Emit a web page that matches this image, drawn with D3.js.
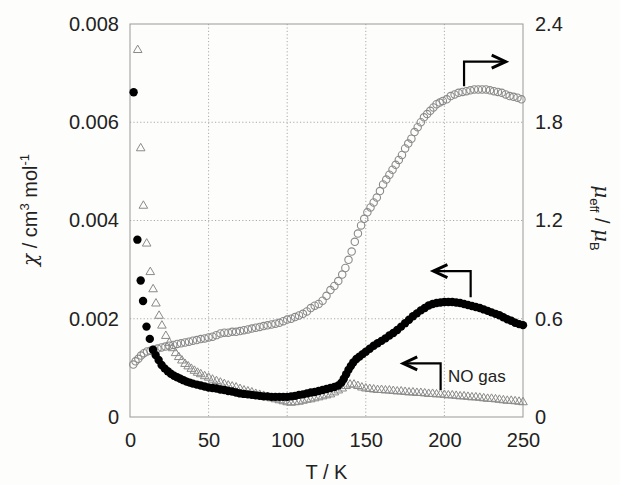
<!DOCTYPE html>
<html>
<head>
<meta charset="utf-8">
<script src="https://cdn.jsdelivr.net/npm/d3@7"></script>
<style>
  body { margin: 0; background: #fdfdfb; }
  svg { display: block; font-family: "Liberation Sans", Arial, sans-serif; }
</style>
</head>
<body>
<svg id="chart" width="620" height="485"></svg>
<script>
// chi of the sample under NO (filled circles), [T / K, chi / cm3 mol-1]
var noChi = [
  [2.3, 0.00661], [4.7, 0.00361], [6.8, 0.00278], [8.3, 0.00236], [10.5, 0.00184],
  [12.6, 0.00159], [14.6, 0.00137], [16.3, 0.00126], [18.2, 0.00116], [20.1, 0.00106],
  [22, 0.00099], [24, 0.00093], [26, 0.00088], [28, 0.00084], [30, 0.00081],
  [32, 0.00078], [34, 0.00075], [36, 0.00072], [38, 0.0007], [40, 0.00068],
  [42.5, 0.00066], [45, 0.00064], [47.5, 0.00062], [50, 0.0006], [52.5, 0.00059],
  [55, 0.00058], [57.5, 0.00056], [60, 0.00055], [62.5, 0.00053], [65, 0.00052],
  [67.5, 0.0005], [70, 0.00048], [72.5, 0.00047], [75, 0.00046], [77.5, 0.00045],
  [80, 0.00044], [82.5, 0.00043], [85, 0.00042], [87.5, 0.00042], [90, 0.00041],
  [92.5, 0.00041], [95, 0.00041], [97.5, 0.00041], [100, 0.00041], [102.5, 0.00042],
  [105, 0.00043], [107.5, 0.00045], [110, 0.00046], [112.5, 0.00048], [115, 0.0005],
  [117.5, 0.00051], [120, 0.00053], [122.5, 0.00055], [125, 0.00057], [127.5, 0.00059],
  [130, 0.00061], [132.5, 0.00064], [134.5, 0.0007], [136, 0.00078], [137.5, 0.00087],
  [139, 0.00096], [140.5, 0.00104], [142, 0.00111], [144, 0.00118], [146, 0.00123],
  [148, 0.00128], [150, 0.00133], [152.5, 0.00139], [155, 0.00145], [157.5, 0.0015],
  [160, 0.00155], [162.5, 0.0016], [165, 0.00166], [167.5, 0.00171], [170, 0.00177],
  [172.5, 0.00184], [175, 0.00191], [177.5, 0.00198], [180, 0.00205], [182.5, 0.00211],
  [185, 0.00217], [187.5, 0.00222], [190, 0.00227], [192.5, 0.0023], [195, 0.00232],
  [197.5, 0.00233], [200, 0.00234], [202.5, 0.00234], [205, 0.00234], [207.5, 0.00233],
  [210, 0.00232], [212.5, 0.0023], [215, 0.00228], [217.5, 0.00226], [220, 0.00224],
  [222.5, 0.00222], [225, 0.00219], [227.5, 0.00216], [230, 0.00213], [232.5, 0.0021],
  [235, 0.00207], [237.5, 0.00203], [240, 0.00199], [242.5, 0.00196], [245, 0.00192],
  [247.5, 0.00189], [250, 0.00187]
];

// mu_eff of the sample (open circles, right axis), [T / K, mu_eff / mu_B]
var muEff = [
  [2.1, 0.32], [3.5, 0.34], [5.3, 0.355], [7, 0.375], [8.8, 0.39], [10.8, 0.4],
  [13, 0.405], [15, 0.41], [17.5, 0.418], [20, 0.425], [22.5, 0.43], [25, 0.435],
  [27.5, 0.44], [30, 0.446], [32.5, 0.45], [35, 0.455], [37.5, 0.46], [40, 0.466],
  [42.5, 0.47], [45, 0.476], [47.5, 0.48], [50, 0.486], [52.5, 0.49], [55, 0.5],
  [57.5, 0.51], [60, 0.515], [62.5, 0.515], [65, 0.52], [67.5, 0.52], [70, 0.525],
  [72.5, 0.53], [75, 0.535], [77.5, 0.54], [80, 0.545], [82.5, 0.55], [85, 0.555],
  [87.5, 0.56], [90, 0.565], [92.5, 0.57], [95, 0.575], [97.5, 0.585], [100, 0.595],
  [102.5, 0.6], [105, 0.61], [107.5, 0.62], [110, 0.63], [112.5, 0.645], [115, 0.665],
  [117.5, 0.68], [120, 0.69], [122.5, 0.71], [125, 0.74], [127.5, 0.775], [130, 0.8],
  [132.5, 0.83], [135, 0.87], [137, 0.91], [139, 0.96], [141, 1.01], [143, 1.07],
  [145, 1.12], [147, 1.17], [149, 1.21], [151, 1.25], [153, 1.28], [155, 1.31],
  [157, 1.34], [159, 1.38], [161, 1.42], [163, 1.45], [165, 1.48], [167, 1.51],
  [169, 1.54], [171, 1.57], [173, 1.6], [175, 1.64], [177, 1.67], [179, 1.7],
  [181, 1.74], [183, 1.77], [185, 1.8], [187, 1.83], [189, 1.85], [191, 1.87],
  [193, 1.89], [195, 1.91], [197, 1.92], [199, 1.93], [201.5, 1.94], [204, 1.96],
  [206.5, 1.97], [209, 1.98], [211.5, 1.985], [214, 1.99], [216.5, 1.995], [219, 2.0],
  [221.5, 2.0], [224, 2.0], [226.5, 2.0], [229, 1.995], [231.5, 1.99], [234, 1.985],
  [236.5, 1.98], [239, 1.97], [241.5, 1.96], [244, 1.955], [246.5, 1.95], [249, 1.94]
];

// chi of NO gas alone (open triangles, left axis), [T / K, chi / cm3 mol-1]
var gasChi = [
  [4.9, 0.00747], [6.8, 0.00547], [8.5, 0.0043], [10.6, 0.00353], [12.9, 0.00295],
  [14.7, 0.0026], [16.5, 0.00231], [18.5, 0.00206], [20.3, 0.00186], [22.8, 0.00165],
  [25, 0.00151], [27, 0.0014], [29, 0.0013], [31, 0.00122], [33, 0.00115],
  [35, 0.00108], [37, 0.00103], [39, 0.00098], [41, 0.00094], [43, 0.0009],
  [45, 0.00087], [47.5, 0.00083], [50, 0.0008], [52.5, 0.00076], [55, 0.00073],
  [57.5, 0.0007], [60, 0.00067], [62.5, 0.00064], [65, 0.00062], [67.5, 0.0006],
  [70, 0.00057], [72.5, 0.00054], [75, 0.00052], [77.5, 0.0005], [80, 0.00047],
  [82.5, 0.00045], [85, 0.00043], [87.5, 0.0004], [90, 0.00038], [92.5, 0.00036],
  [95, 0.00034], [97.5, 0.00032], [100, 0.0003], [102.5, 0.00029], [105, 0.0003],
  [107.5, 0.00031], [110, 0.00033], [112.5, 0.00035], [115, 0.00036], [117.5, 0.00038],
  [120, 0.0004], [122.5, 0.00042], [125, 0.00044], [127.5, 0.00046], [130, 0.0005],
  [132.5, 0.00054], [135, 0.00058], [137.5, 0.00063], [140, 0.00066], [142.5, 0.00066],
  [145, 0.00063], [147.5, 0.0006], [150, 0.00058], [152.5, 0.00057], [155, 0.00056],
  [157.5, 0.00055], [160, 0.00055], [162.5, 0.00054], [165, 0.00054], [167.5, 0.00053],
  [170, 0.00052], [172.5, 0.00052], [175, 0.00051], [177.5, 0.0005], [180, 0.0005],
  [182.5, 0.00049], [185, 0.00049], [187.5, 0.00048], [190, 0.00047], [192.5, 0.00047],
  [195, 0.00046], [197.5, 0.00046], [200, 0.00045], [202.5, 0.00044], [205, 0.00044],
  [207.5, 0.00043], [210, 0.00042], [212.5, 0.00042], [215, 0.00041], [217.5, 0.0004],
  [220, 0.0004], [222.5, 0.00039], [225, 0.00038], [227.5, 0.00037], [230, 0.00037],
  [232.5, 0.00036], [235, 0.00035], [237.5, 0.00034], [240, 0.00033], [242.5, 0.00033],
  [245, 0.00032], [247.5, 0.00031], [250, 0.0003]
];

var xTicks = [0, 50, 100, 150, 200, 250];
var chiTicks = [0, 0.002, 0.004, 0.006, 0.008];
var chiTickLabels = ['0', '0.002', '0.004', '0.006', '0.008'];
var muTicks = [0, 0.6, 1.2, 1.8, 2.4];
var muTickLabels = ['0', '0.6', '1.2', '1.8', '2.4'];

var svg = d3.select('#chart');
var margin = { top: 24, right: 97, bottom: 68, left: 130 };
var width = +svg.attr('width') - margin.left - margin.right;
var height = +svg.attr('height') - margin.top - margin.bottom;

var x = d3.scaleLinear().domain([0, 250]).range([0, width]);
var yChi = d3.scaleLinear().domain([0, 0.008]).range([height, 0]);
var yMu = d3.scaleLinear().domain([0, 2.4]).range([height, 0]);

var g = svg.append('g')
  .attr('transform', 'translate(' + margin.left + ',' + margin.top + ')');

// Dotted grid lines on the inner ticks.
g.append('g')
  .selectAll('line')
  .data(xTicks.slice(1, -1))
  .enter().append('line')
    .attr('x1', x).attr('x2', x)
    .attr('y1', 0).attr('y2', height)
    .attr('stroke', '#aaa')
    .attr('stroke-dasharray', '1.2,2.2');

g.append('g')
  .selectAll('line')
  .data(chiTicks.slice(1, -1))
  .enter().append('line')
    .attr('y1', yChi).attr('y2', yChi)
    .attr('x1', 0).attr('x2', width)
    .attr('stroke', '#aaa')
    .attr('stroke-dasharray', '1.2,2.2');

// Frame.
g.append('rect')
  .attr('width', width)
  .attr('height', height)
  .attr('fill', 'none')
  .attr('stroke', '#999')
  .attr('stroke-width', 1);

// Axes: labels only, no tick marks.
var axisLeft = d3.axisLeft(yChi)
  .tickValues(chiTicks)
  .tickSize(0)
  .tickPadding(11)
  .tickFormat(function(d, i) { return chiTickLabels[i]; });
var axisRight = d3.axisRight(yMu)
  .tickValues(muTicks)
  .tickSize(0)
  .tickPadding(12)
  .tickFormat(function(d, i) { return muTickLabels[i]; });
var axisBottom = d3.axisBottom(x)
  .tickValues(xTicks)
  .tickSize(0)
  .tickPadding(16);

function styleAxis(sel) {
  sel.select('.domain').remove();
  sel.selectAll('text')
    .attr('font-size', 20)
    .attr('font-family', '"Liberation Sans", Arial, sans-serif')
    .attr('fill', '#222');
}

g.append('g').call(axisLeft).call(styleAxis);
g.append('g').attr('transform', 'translate(' + width + ',0)').call(axisRight).call(styleAxis);
g.append('g').attr('transform', 'translate(0,' + height + ')').call(axisBottom).call(styleAxis);

// Open circles: mu_eff.
g.append('g')
  .selectAll('circle')
  .data(muEff)
  .enter().append('circle')
    .attr('cx', function(d) { return x(d[0]); })
    .attr('cy', function(d) { return yMu(d[1]); })
    .attr('r', 3.7)
    .attr('fill', 'none')
    .attr('stroke', '#8a8a8a')
    .attr('stroke-width', 1.1);

// Open triangles: NO gas.
var tri = d3.symbol().type(d3.symbolTriangle).size(32);
g.append('g')
  .selectAll('path')
  .data(gasChi)
  .enter().append('path')
    .attr('d', tri)
    .attr('transform', function(d) { return 'translate(' + x(d[0]) + ',' + yChi(d[1]) + ')'; })
    .attr('fill', 'none')
    .attr('stroke', '#8a8a8a')
    .attr('stroke-width', 1);

// Filled circles: chi.
g.append('g')
  .selectAll('circle')
  .data(noChi)
  .enter().append('circle')
    .attr('cx', function(d) { return x(d[0]); })
    .attr('cy', function(d) { return yChi(d[1]); })
    .attr('r', 4.2)
    .attr('fill', '#000');

// Bent arrows pointing to the axis each series belongs to.
var arrows = [
  { pts: [[212.5, yMu(2.02)], [212.5, yMu(2.17)], [239, yMu(2.17)]], dir: 1 },
  { pts: [[216.7, yChi(0.00244)], [216.7, yChi(0.00297)], [193, yChi(0.00297)]], dir: -1 },
  { pts: [[197.6, yChi(0.00055)], [197.6, yChi(0.00109)], [173.8, yChi(0.00109)]], dir: -1 }
];
var line = d3.line().x(function(d) { return x(d[0]); }).y(function(d) { return d[1]; });
arrows.forEach(function(a) {
  g.append('path')
    .attr('d', line(a.pts))
    .attr('fill', 'none')
    .attr('stroke', '#000')
    .attr('stroke-width', 2.2);
  var tip = a.pts[2];
  var tx = x(tip[0]), ty = tip[1];
  g.append('path')
    .attr('d', 'M' + (tx - a.dir * 14) + ',' + (ty - 6.5) + 'L' + tx + ',' + ty +
               'L' + (tx - a.dir * 14) + ',' + (ty + 6.5))
    .attr('fill', 'none')
    .attr('stroke', '#000')
    .attr('stroke-width', 3)
    .attr('stroke-linejoin', 'miter');
});

g.append('text')
  .attr('x', x(202.3))
  .attr('y', yChi(0.00071))
  .attr('font-size', 17)
  .attr('fill', '#222')
  .text('NO gas');

// Axis titles.
svg.append('text')
  .attr('x', margin.left + width / 2)
  .attr('y', 479)
  .attr('text-anchor', 'middle')
  .attr('font-size', 20)
  .attr('fill', '#222')
  .text('T / K');

var leftTitle = svg.append('text')
  .attr('transform', 'translate(37,210) rotate(-90)')
  .attr('text-anchor', 'middle')
  .attr('font-size', 20)
  .attr('fill', '#222');
leftTitle.append('tspan').attr('font-style', 'italic').attr('font-family', '"DejaVu Serif", serif').text('χ');
leftTitle.append('tspan').text(' / cm');
leftTitle.append('tspan').attr('font-size', 13).attr('dy', -8).text('3');
leftTitle.append('tspan').attr('dy', 8).text(' mol');
leftTitle.append('tspan').attr('font-size', 13).attr('dy', -8).text('-1');

var rightTitle = svg.append('text')
  .attr('transform', 'translate(595,218) rotate(90)')
  .attr('text-anchor', 'middle')
  .attr('font-size', 20)
  .attr('fill', '#222');
rightTitle.append('tspan').attr('font-style', 'italic').attr('font-family', '"DejaVu Serif", serif').text('μ');
rightTitle.append('tspan').attr('font-size', 13).attr('dy', 5).text('eff');
rightTitle.append('tspan').attr('dy', -5).text(' / ');
rightTitle.append('tspan').attr('font-style', 'italic').attr('font-family', '"DejaVu Serif", serif').text('μ');
rightTitle.append('tspan').attr('font-size', 13).attr('dy', 5).text('B');
</script>
</body>
</html>
